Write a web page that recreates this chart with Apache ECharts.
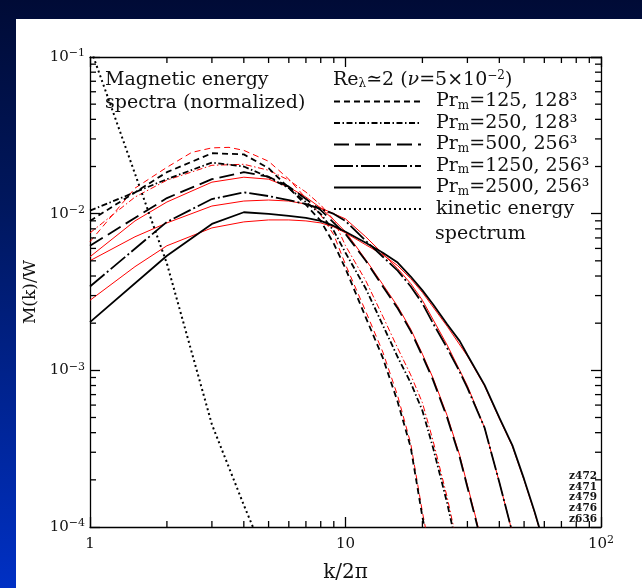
<!DOCTYPE html>
<html><head><meta charset="utf-8">
<script src="https://cdn.jsdelivr.net/npm/echarts/dist/echarts.min.js"></script>
<style>
html,body{margin:0;padding:0;width:642px;height:588px;overflow:hidden;}
body{background:linear-gradient(to bottom,#000b36 0%,#00175e 35%,#0030c4 100%);}
#panel{position:absolute;left:16px;top:19px;right:0;bottom:0;background:#fff;}
#chart{position:absolute;left:0;top:0;width:642px;height:588px;}
</style></head><body><div id="panel"></div><div id="chart"></div>
<script>
// ---- data ----
const k125 = [1,2,3,4,5,6,7,8,9,10,12,14,16,18,20,22];
const m125 = [8.99e-3,1.84e-2,2.43e-2,2.39e-2,1.95e-2,1.46e-2,1.14e-2,8.99e-3,6.43e-3,4.46e-3,2.18e-3,1.20e-3,6.30e-4,3.22e-4,1.16e-4,5.2e-5];
const kr125 = [1,1.5,2,2.5,3,3.5,4,5,6,7,8,9,10,12,14,16,18,20,22];
const mr125 = [6.62e-3,1.455e-2,1.977e-2,2.46e-2,2.63e-2,2.65e-2,2.535e-2,2.16e-2,1.66e-2,1.257e-2,9.81e-3,7.33e-3,4.73e-3,2.38e-3,1.308e-3,6.88e-4,3.41e-4,1.246e-4,5.58e-5];

const k250 = [1,2,3,4,5,6,7,8,9,10,12,14,16,18,20,22,25,27];
const m250 = [1.045e-2,1.66e-2,2.12e-2,2.0e-2,1.71e-2,1.455e-2,1.187e-2,9.96e-3,7.77e-3,5.63e-3,3.33e-3,1.94e-3,1.216e-3,8.32e-4,5.53e-4,3.22e-4,1.42e-4,8.04e-5];
const kr250 = [1,1.5,2,3,4,5,6,7,8,9,10,12,14,16,18,20,22,25,27];
const mr250 = [7.54e-3,1.276e-2,1.636e-2,2.036e-2,2.066e-2,1.893e-2,1.636e-2,1.373e-2,1.136e-2,9.12e-3,6.24e-3,3.74e-3,2.21e-3,1.387e-3,9.35e-4,6.21e-4,3.57e-4,1.55e-4,8.65e-5];

const k500 = [1,2,3,4,5,6,7,8,9,10,12,14,16,18,20,22,25,28,30,32,34];
const m500 = [6.24e-3,1.258e-2,1.66e-2,1.839e-2,1.721e-2,1.488e-2,1.24e-2,1.055e-2,8.73e-3,7.43e-3,5.01e-3,3.43e-3,2.49e-3,1.78e-3,1.234e-3,8.69e-4,4.99e-4,2.78e-4,1.796e-4,1.193e-4,8.04e-5];
const kr500 = [1,1.5,2,3,4,5,6,7,8,9,10,12,14,16,18,20,22,25,28,30,32,34];
const mr500 = [5.31e-3,8.99e-3,1.187e-2,1.589e-2,1.709e-2,1.66e-2,1.476e-2,1.276e-2,1.087e-2,9.12e-3,7.66e-3,5.09e-3,3.53e-3,2.56e-3,1.83e-3,1.27e-3,8.95e-4,5.14e-4,2.86e-4,1.85e-4,1.23e-4,8.3e-5];

const k1250 = [1,2,3,4,5,6,7,8,9,10,12,14,16,18,20,22,25,28,30,35,40,45,48];
const m1250 = [3.43e-3,8.86e-3,1.24e-2,1.367e-2,1.295e-2,1.222e-2,1.152e-2,1.071e-2,9.96e-3,8.99e-3,6.71e-3,5.31e-3,4.33e-3,3.43e-3,2.676e-3,2.0e-3,1.387e-3,9.77e-4,7.73e-4,4.31e-4,1.93e-4,9.18e-5,6.46e-5];
const kr1250 = [1,1.5,2,3,4,5,6,7,8,10,12,14,16,18,20,25,30,35,40,45];
const mr1250 = [5.01e-3,7.12e-3,8.73e-3,1.119e-2,1.204e-2,1.222e-2,1.204e-2,1.152e-2,1.087e-2,9.26e-3,7.12e-3,5.55e-3,4.46e-3,3.58e-3,2.80e-3,1.449e-3,7.96e-4,4.31e-4,1.93e-4,9.18e-5];

const k2500 = [1,2,3,4,5,6,7,8,9,10,12,14,16,18,20,22,25,28,30,35,40,45,50,55,60];
const m2500 = [2.03e-3,5.39e-3,8.60e-3,1.021e-2,9.96e-3,9.67e-3,9.39e-3,8.99e-3,8.35e-3,7.66e-3,6.52e-3,5.63e-3,4.87e-3,3.97e-3,3.24e-3,2.64e-3,1.97e-3,1.536e-3,1.252e-3,8.08e-4,4.99e-4,3.32e-4,2.02e-4,1.246e-4,7.70e-5];
const kr2500 = [1,1.5,2,3,4,5,6,7,8,9,10,12,14,16,18,20,25,30,35,40,45,50,55,60];
const mr2500 = [2.80e-3,4.59e-3,6.24e-3,8.11e-3,8.86e-3,9.12e-3,9.12e-3,8.99e-3,8.73e-3,8.23e-3,7.54e-3,6.33e-3,5.47e-3,4.66e-3,3.85e-3,3.14e-3,1.91e-3,1.234e-3,7.96e-4,4.92e-4,3.27e-4,1.99e-4,1.23e-4,7.6e-5];

const kKin = [1,2,3,4,5];
const mKin = [0.1157,4.80e-3,4.51e-4,1.38e-4,5.75e-5];

const xMinorTicks = [2,3,4,5,6,7,8,9,20,30,40,50,60,70,80,90];
const yMinorTicks = [2e-4,3e-4,4e-4,5e-4,6e-4,7e-4,8e-4,9e-4,2e-3,3e-3,4e-3,5e-3,6e-3,7e-3,8e-3,9e-3,2e-2,3e-2,4e-2,5e-2,6e-2,7e-2,8e-2,9e-2];
const X_MIN = 1, X_MAX = 100, Y_MIN = 1e-4, Y_MAX = 1e-1;

const legendNames = ['Pr125','Pr250','Pr500','Pr1250','Pr2500','kin'];
const legendLabels = {
  Pr125: '{a|Pr}{s|m}{a|=125, 128³}',
  Pr250: '{a|Pr}{s|m}{a|=250, 128³}',
  Pr500: '{a|Pr}{s|m}{a|=500, 256³}',
  Pr1250: '{a|Pr}{s|m}{a|=1250, 256³}',
  Pr2500: '{a|Pr}{s|m}{a|=2500, 256³}',
  kin: '{a|kinetic energy}'
};

// ---- chart ----
const FONT = '"DejaVu Serif", serif';
const TXT = '#111';
const FS = 19;
const pair = (ks, ms) => ks.map((k, i) => [k, ms[i]]);
function expLabel(v) {
  const e = Math.round(Math.log10(v));
  if (e === 0) return '{a|1}';
  if (e === 1) return '{a|10}';
  return '{a|10}{p|' + (e < 0 ? '−' : '') + Math.abs(e) + '}';
}
const labelRich = {
  a: {fontFamily: FONT, fontSize: 15, lineHeight: 18, color: TXT},
  p: {fontFamily: FONT, fontSize: 11, lineHeight: 10, color: TXT, verticalAlign: 'top'}
};
const axisCommon = {
  type: 'log', logBase: 10,
  axisLine: {show: true, lineStyle: {color: '#000', width: 1.3}},
  axisTick: {show: true, inside: true, length: 10, lineStyle: {color: '#000', width: 1.3}},
  splitLine: {show: false}, minorTick: {show: false}
};

function lineSeries(name, data, color, width, dash, z) {
  return {
    name, type: 'line', data, symbol: 'none', showSymbol: false, smooth: false,
    xAxisIndex: 0, yAxisIndex: 0, z,
    lineStyle: {color, width, type: dash},
    itemStyle: {color},
    emphasis: {disabled: true}, silent: true, clip: true
  };
}
const D125 = [6, 4], D250 = [6, 2.5, 1.5, 2.5], D500 = [15, 6], D1250 = [19, 3, 2, 3], DKIN = [2, 3];

const series = [
  lineSeries('r125', pair(kr125, mr125), '#ff0000', 1, D125, 2),
  lineSeries('r250', pair(kr250, mr250), '#ff0000', 1, D250, 2),
  lineSeries('r500', pair(kr500, mr500), '#ff0000', 1, 'solid', 2),
  lineSeries('r1250', pair(kr1250, mr1250), '#ff0000', 1, 'solid', 2),
  lineSeries('r2500', pair(kr2500, mr2500), '#ff0000', 1, 'solid', 2),
  lineSeries('Pr125', pair(k125, m125), '#000', 1.8, D125, 3),
  lineSeries('Pr250', pair(k250, m250), '#000', 1.8, D250, 3),
  lineSeries('Pr500', pair(k500, m500), '#000', 1.8, D500, 3),
  lineSeries('Pr1250', pair(k1250, m1250), '#000', 1.8, D1250, 3),
  lineSeries('Pr2500', pair(k2500, m2500), '#000', 1.8, 'solid', 3),
  lineSeries('kin', pair(kKin, mKin), '#000', 2, DKIN, 3),
  {
    type: 'custom', name: 'xminor', silent: true, clip: false, z: 5,
    data: xMinorTicks.map(v => [v, Y_MIN]),
    renderItem: (params, api) => {
      const v = api.value(0);
      const b = api.coord([v, Y_MIN]), t = api.coord([v, Y_MAX]);
      const st = {stroke: '#000', lineWidth: 1.3};
      return {type: 'group', children: [
        {type: 'line', shape: {x1: b[0], y1: b[1], x2: b[0], y2: b[1] - 6}, style: st},
        {type: 'line', shape: {x1: t[0], y1: t[1], x2: t[0], y2: t[1] + 6}, style: st}
      ]};
    }
  },
  {
    type: 'custom', name: 'yminor', silent: true, clip: false, z: 5,
    data: yMinorTicks.map(v => [X_MIN, v]),
    renderItem: (params, api) => {
      const v = api.value(1);
      const l = api.coord([X_MIN, v]), r = api.coord([X_MAX, v]);
      const st = {stroke: '#000', lineWidth: 1.3};
      return {type: 'group', children: [
        {type: 'line', shape: {x1: l[0], y1: l[1], x2: l[0] + 6, y2: l[1]}, style: st},
        {type: 'line', shape: {x1: r[0], y1: r[1], x2: r[0] - 6, y2: r[1]}, style: st}
      ]};
    }
  }
];

const chart = echarts.init(document.getElementById('chart'), null, {renderer: 'canvas'});
chart.setOption({
  animation: false,
  backgroundColor: 'transparent',
  grid: {left: 90, top: 57, width: 511, height: 473, containLabel: false},
  xAxis: [
    Object.assign({}, axisCommon, {
      min: X_MIN, max: X_MAX, position: 'bottom',
      axisLabel: {show: true, margin: 8, formatter: expLabel, rich: labelRich},
      name: 'k/2π', nameLocation: 'middle', nameGap: 36,
      nameTextStyle: {fontFamily: FONT, fontSize: 20, color: TXT}
    }),
    Object.assign({}, axisCommon, {min: X_MIN, max: X_MAX, position: 'top', axisLabel: {show: false}})
  ],
  yAxis: [
    Object.assign({}, axisCommon, {
      min: Y_MIN, max: Y_MAX, position: 'left',
      axisLabel: {show: true, margin: 5, formatter: expLabel, rich: labelRich},
      name: 'M(k)/W', nameLocation: 'middle', nameGap: 50, nameRotate: 90,
      nameTextStyle: {fontFamily: FONT, fontSize: 17, color: TXT}
    }),
    Object.assign({}, axisCommon, {min: Y_MIN, max: Y_MAX, position: 'right', axisLabel: {show: false}})
  ],
  legend: {
    show: true, orient: 'vertical', left: 333, top: 92, padding: 0,
    itemWidth: 87, itemHeight: 14, itemGap: 2, selectedMode: false,
    itemStyle: {opacity: 0, borderWidth: 0},
    data: legendNames, formatter: n => legendLabels[n],
    textStyle: {
      fontFamily: FONT, fontSize: FS, color: TXT, padding: [0, 0, 0, 10],
      rich: {
        a: {fontFamily: FONT, fontSize: FS, lineHeight: 20, color: TXT},
        s: {fontFamily: FONT, fontSize: 12, lineHeight: 9, color: TXT, verticalAlign: 'bottom'}
      }
    }
  },
  graphic: [
    {type: 'text', x: 105, y: 80, silent: true, style: {text: 'Magnetic energy', fontFamily: FONT, fontSize: FS, fill: TXT, verticalAlign: 'middle'}},
    {type: 'text', x: 105, y: 103, silent: true, style: {text: 'spectra (normalized)', fontFamily: FONT, fontSize: FS, fill: TXT, verticalAlign: 'middle'}},
    {type: 'text', x: 333, y: 80, silent: true, style: {
      text: '{a|Re}{s|λ}{a|≃2 (}{i|ν}{a|=5×10}{p|−2}{a|)}', verticalAlign: 'middle',
      rich: {
        a: {fontFamily: FONT, fontSize: FS, lineHeight: 20, fill: TXT},
        i: {fontFamily: FONT, fontSize: FS, lineHeight: 20, fill: TXT, fontStyle: 'italic'},
        s: {fontFamily: FONT, fontSize: 12, lineHeight: 9, fill: TXT, verticalAlign: 'bottom'},
        p: {fontFamily: FONT, fontSize: 12, lineHeight: 10, fill: TXT, verticalAlign: 'top'}
      }}},
    {type: 'text', x: 435, y: 234, silent: true, style: {text: 'spectrum', fontFamily: FONT, fontSize: FS, fill: TXT, verticalAlign: 'middle'}},
    {type: 'text', x: 597, y: 471, silent: true, style: {text: 'z472\nz471\nz479\nz476\nz636', fontFamily: FONT, fontSize: 10.5, fontWeight: 'bold', lineHeight: 10.7, fill: TXT, align: 'right', verticalAlign: 'top'}}
  ],
  series
});
</script></body></html>
